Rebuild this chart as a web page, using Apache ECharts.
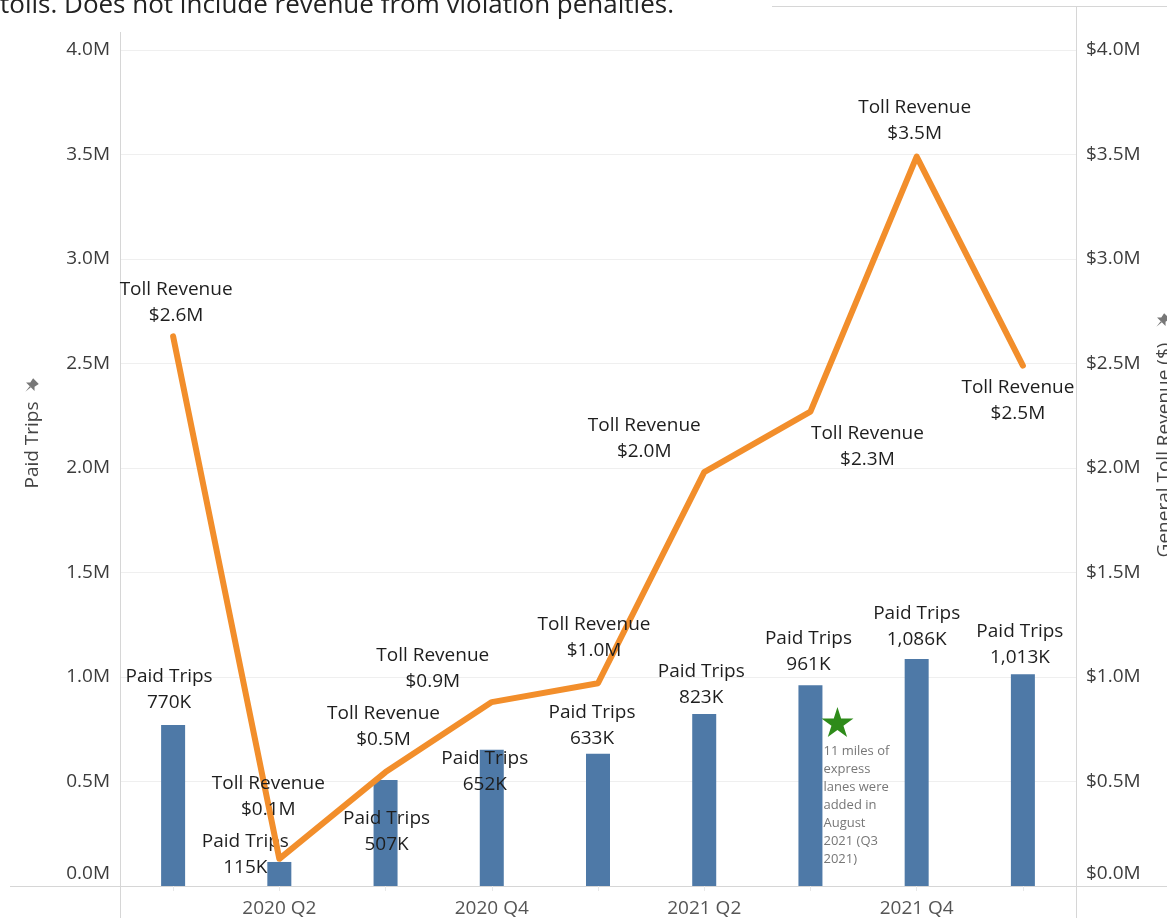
<!DOCTYPE html>
<html>
<head>
<meta charset="utf-8">
<title>Paid Trips and Toll Revenue</title>
<script src="https://cdn.jsdelivr.net/npm/echarts@6/dist/echarts.min.js"></script>
<style>
  html, body { margin: 0; padding: 0; background: #fff; }
  #chart { width: 1167px; height: 918px; }
</style>
</head>
<body>
<div id="chart"></div>
<script>
// quarters shown on the x axis
const quarters = ['2020 Q1', '2020 Q2', '2020 Q3', '2020 Q4', '2021 Q1', '2021 Q2', '2021 Q3', '2021 Q4', '2022 Q1']
// paid trips per quarter (bars, left axis)
const paidTrips = [770000, 115000, 507000, 652000, 633000, 823000, 961000, 1086000, 1013000]
// general toll revenue per quarter in $ (line, right axis)
const tollRevenue = [2630000, 130000, 545000, 880000, 970000, 1980000, 2270000, 3490000, 2490000]
// axis ticks
const axisMax = 4000000
const axisStep = 500000
// annotation
const noteQuarter = '2021 Q3'
const noteLevel = 785000
const noteText = '11 miles of\nexpress\nlanes were\nadded in\nAugust\n2021 (Q3\n2021)'
const topText = 'tolls. Does not include revenue from violation penalties.'

// label nudges so labels don't collide (like the tableau layout)
const tripLabelShift = [[-4, -4], [-34, 24], [1, 83], [-7, 53], [-6, 3], [-3, 2], [-2, -3], [0, -1], [-3, 1]]
const tollLabelPlace = [
  ['top', 3, 0], ['top', -11, -29], ['top', -2, -12], ['top', -59, 0], ['top', -4, -12],
  ['top', -60, 0], ['bottom', 57, 0], ['top', -2, -2], ['bottom', -5, 0],
]

const FONT = '"Open Sans", "DejaVu Sans", sans-serif'
const BORDER = '#d6d6d6'
const AXIS_TXT = '#3c3c3c'
const STAR = 'path://M50,0 L61,35 L98,35 L68,57 L79,91 L50,70 L21,91 L32,57 L2,35 L39,35 Z'

const fmtM = (v) => (v / 1e6).toFixed(1) + 'M'
const fmtK = (v) => Math.round(v / 1000).toLocaleString('en-US') + 'K'

// little grey pushpin next to the axis titles (tilted)
function pin(cx, cy) {
  const pts = [[-4, -7], [4, -7], [3, -2], [6, 1], [-6, 1], [-3, -2]]
  const needle = [[-0.8, 1], [0.8, 1], [0, 8]]
  const a = Math.PI / 4
  const rot = (p) => [cx + p[0] * Math.cos(a) - p[1] * Math.sin(a), cy + p[0] * Math.sin(a) + p[1] * Math.cos(a)]
  return [
    { type: 'polygon', shape: { points: pts.map(rot) }, style: { fill: '#777' } },
    { type: 'polygon', shape: { points: needle.map(rot) }, style: { fill: '#777' } },
  ]
}

function yAxisCfg(prefix, pos) {
  return {
    type: 'value',
    position: pos,
    min: 0,
    max: axisMax,
    interval: axisStep,
    axisLine: { show: true, lineStyle: { color: BORDER } },
    axisTick: { show: false },
    splitLine: { show: pos === 'left', lineStyle: { color: '#efefef' } },
    axisLabel: {
      color: AXIS_TXT,
      fontFamily: FONT,
      fontSize: 19,
      margin: 10,
      formatter: (v) => v === 0 ? '{z|' + prefix + fmtM(v) + '}' : prefix + fmtM(v),
      rich: {
        z: { color: AXIS_TXT, fontFamily: FONT, fontSize: 19, padding: [0, 0, 24, 0] },
      },
    },
  }
}

const chart = echarts.init(document.getElementById('chart'))

chart.setOption({
  animation: false,
  backgroundColor: '#fff',
  grid: { left: 120, right: 91, top: 50, bottom: 32, containLabel: false, outerBoundsMode: 'none' },
  xAxis: {
    type: 'category',
    data: quarters,
    axisLine: { show: true, lineStyle: { color: BORDER } },
    axisTick: { show: true, alignWithLabel: true, interval: 0, length: 5, lineStyle: { color: '#e8e8e8' } },
    axisLabel: {
      color: '#555',
      fontFamily: FONT,
      fontSize: 19,
      margin: 13,
      interval: (i) => i % 2 === 1,
    },
    splitLine: { show: false },
  },
  yAxis: [yAxisCfg('', 'left'), yAxisCfg('$', 'right')],
  series: [
    {
      name: 'Paid Trips',
      type: 'bar',
      barWidth: 24,
      itemStyle: { color: '#4e79a7' },
      label: {
        show: true,
        position: 'top',
        distance: 5,
        color: '#1e1e1e',
        fontFamily: FONT,
        fontSize: 19,
        lineHeight: 26,
        formatter: (p) => 'Paid Trips\n' + fmtK(p.value),
      },
      data: paidTrips.map((v, i) => ({ value: v, label: { offset: tripLabelShift[i] } })),
      markPoint: {
        symbol: STAR,
        symbolSize: [32, 30],
        symbolOffset: [27, 0],
        itemStyle: { color: '#2e8b1a' },
        label: {
          show: true,
          position: [2, 35],
          align: 'left',
          verticalAlign: 'top',
          color: '#777',
          fontFamily: FONT,
          fontSize: 13,
          lineHeight: 18,
          formatter: noteText,
        },
        data: [{ coord: [noteQuarter, noteLevel] }],
      },
    },
    {
      name: 'Toll Revenue',
      type: 'line',
      yAxisIndex: 1,
      symbol: 'circle',
      symbolSize: 1,
      showSymbol: true,
      itemStyle: { color: '#f28e2b' },
      lineStyle: { color: '#f28e2b', width: 6, join: 'round', cap: 'round' },
      label: {
        show: true,
        position: 'top',
        distance: 7,
        color: '#1e1e1e',
        fontFamily: FONT,
        fontSize: 19,
        lineHeight: 26,
        formatter: (p) => 'Toll Revenue\n$' + fmtM(p.value),
      },
      data: tollRevenue.map((v, i) => ({
        value: v,
        label: {
          position: tollLabelPlace[i][0],
          distance: tollLabelPlace[i][0] === 'bottom' ? 9 : 7,
          offset: [tollLabelPlace[i][1], tollLabelPlace[i][2]],
        },
      })),
    },
  ],
  graphic: [
    // pane borders
    { type: 'line', shape: { x1: 120.5, y1: 32, x2: 120.5, y2: 918 }, style: { stroke: BORDER, lineWidth: 1 } },
    { type: 'line', shape: { x1: 1076.5, y1: 6, x2: 1076.5, y2: 918 }, style: { stroke: BORDER, lineWidth: 1 } },
    { type: 'line', shape: { x1: 772, y1: 6.5, x2: 1167, y2: 6.5 }, style: { stroke: BORDER, lineWidth: 1 } },
    { type: 'line', shape: { x1: 10, y1: 886.5, x2: 1167, y2: 886.5 }, style: { stroke: BORDER, lineWidth: 1 } },
    // cut-off caption line at the top
    {
      type: 'text', x: 0, y: 19,
      style: { text: topText, fill: '#222', font: '26px ' + FONT, textVerticalAlign: 'bottom' },
    },
    // axis titles
    {
      type: 'text', x: 33, y: 445, rotation: Math.PI / 2,
      style: { text: 'Paid Trips', fill: '#444', font: '19px ' + FONT, textAlign: 'center', textVerticalAlign: 'middle' },
    },
    ...pin(31, 386),
    {
      type: 'text', x: 1165, y: 450, rotation: Math.PI / 2,
      style: { text: 'General Toll Revenue ($)', fill: '#444', font: '19px ' + FONT, textAlign: 'center', textVerticalAlign: 'middle' },
    },
    ...pin(1162, 321),
  ],
})
</script>
</body>
</html>
